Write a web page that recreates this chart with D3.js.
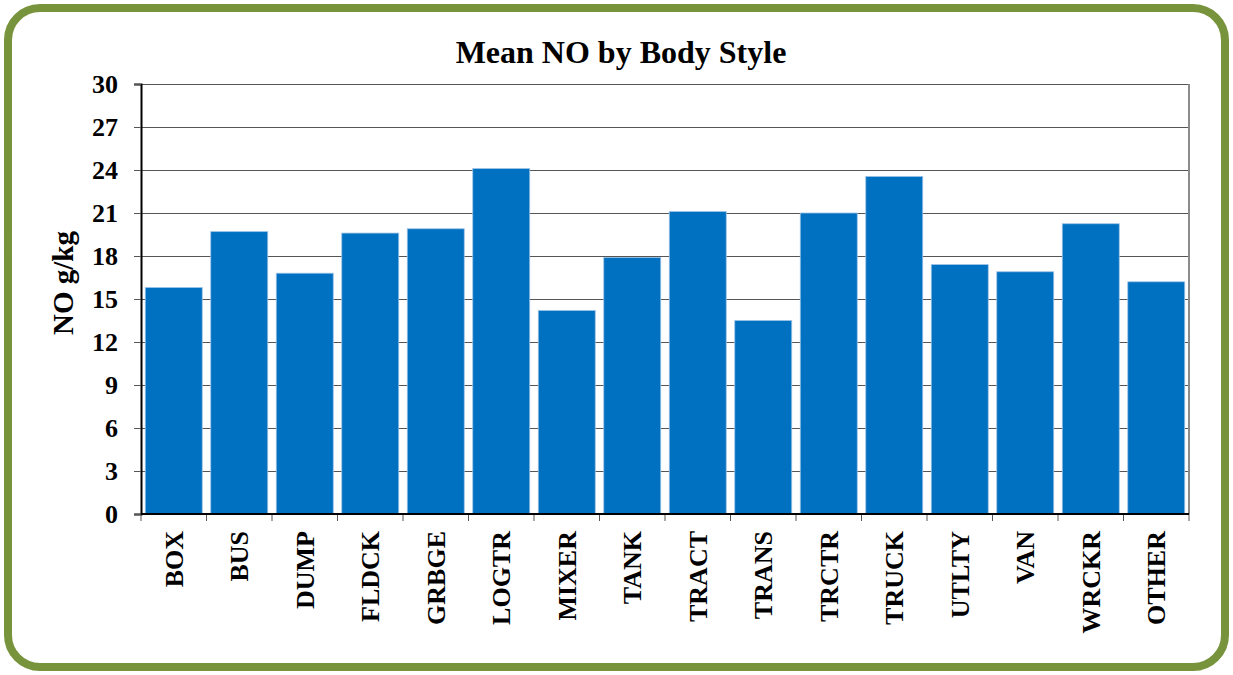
<!DOCTYPE html>
<html>
  <head>
    <script type="text/javascript" src="https://cdn.jsdelivr.net/npm/d3@7"></script>
    <style type="text/css">

html, body {
  margin: 0;
  background: #fff;
}

svg {
  display: block;
}

text {
  font-family: "Liberation Serif", "Times New Roman", serif;
  font-weight: bold;
  fill: #000;
}

    </style>
  </head>
  <body>
    <div id="chart"></div>
    <script type="text/javascript">

// Data
var categories = ["BOX", "BUS", "DUMP", "FLDCK", "GRBGE", "LOGTR", "MIXER", "TANK",
                  "TRACT", "TRANS", "TRCTR", "TRUCK", "UTLTY", "VAN", "WRCKR", "OTHER"];
var meanNO = [15.8, 19.7, 16.8, 19.6, 19.9, 24.1, 14.2, 17.9,
              21.1, 13.5, 21.0, 23.55, 17.4, 16.9, 20.25, 16.2];
var yTicks = [0, 3, 6, 9, 12, 15, 18, 21, 24, 27, 30];

var width = 1233, height = 675;
var margin = {top: 84, right: 44, bottom: 161, left: 141};

var svg = d3.select("#chart").append("svg")
    .attr("width", width)
    .attr("height", height);

// Rounded green frame
svg.append("rect")
    .attr("x", 8).attr("y", 8)
    .attr("width", width - 16).attr("height", height - 16)
    .attr("rx", 32).attr("ry", 32)
    .attr("fill", "#fff")
    .attr("stroke", "#77933C")
    .attr("stroke-width", 8);

var x = d3.scaleBand()
    .domain(categories)
    .range([margin.left, width - margin.right])
    .paddingInner(0.13)
    .paddingOuter(0.065);

var y = d3.scaleLinear()
    .domain([0, 30])
    .range([height - margin.bottom, margin.top]);

var x0 = margin.left, x1 = width - margin.right;

// Gridlines
svg.append("g")
  .selectAll("line")
    .data(yTicks.filter(function(d) { return d > 0; }))
  .enter().append("line")
    .attr("x1", x0 - 7).attr("x2", x1)
    .attr("y1", function(d) { return Math.round(y(d)) + 0.5; })
    .attr("y2", function(d) { return Math.round(y(d)) + 0.5; })
    .attr("stroke", "#555")
    .attr("stroke-width", 1);

// Right border of plot area
svg.append("line")
    .attr("x1", x1).attr("x2", x1)
    .attr("y1", y(30)).attr("y2", y(0))
    .attr("stroke", "#8c8c8c")
    .attr("stroke-width", 2);

// Bars
svg.append("g")
  .selectAll("rect")
    .data(meanNO)
  .enter().append("rect")
    .attr("x", function(d, i) { return x(categories[i]); })
    .attr("y", function(d) { return y(d); })
    .attr("width", x.bandwidth())
    .attr("height", function(d) { return y(0) - y(d); })
    .attr("fill", "#0070C0")
    .attr("stroke", "#9cc3e6")
    .attr("stroke-width", 0.8);

// Y axis
var yAxis = svg.append("g")
    .attr("transform", "translate(" + x0 + ",0)")
    .call(d3.axisLeft(y).tickValues(yTicks).tickSize(7).tickPadding(16));
yAxis.select(".domain").attr("stroke", "#000").attr("stroke-width", 2);
yAxis.selectAll(".tick line").attr("stroke", "#555");
yAxis.selectAll(".tick text")
    .style("font-size", "26px")
    .style("font-family", "Liberation Serif")
    .style("font-weight", "bold");

// X axis: ticks at category boundaries
var bounds = categories.map(function(c) { return x(c) - x.step() * x.paddingInner() / 2; });
bounds.push(x1);
svg.append("g")
  .selectAll("line")
    .data(bounds)
  .enter().append("line")
    .attr("x1", function(d) { return d; }).attr("x2", function(d) { return d; })
    .attr("y1", y(0)).attr("y2", y(0) + 7)
    .attr("stroke", "#555");
svg.append("line")
    .attr("x1", x0).attr("x2", x1)
    .attr("y1", y(0)).attr("y2", y(0))
    .attr("stroke", "#000")
    .attr("stroke-width", 2);

svg.append("g")
  .selectAll("text")
    .data(categories)
  .enter().append("text")
    .attr("transform", function(d) {
      return "translate(" + (x(d) + x.bandwidth() / 2 + 9) + "," + (y(0) + 17) + ") rotate(-90)";
    })
    .attr("text-anchor", "end")
    .style("font-size", "26px")
    .text(function(d) { return d; });

// Y axis title
svg.append("text")
    .attr("transform", "translate(73,283) rotate(-90)")
    .attr("text-anchor", "middle")
    .style("font-size", "29px")
    .text("NO g/kg");

// Chart title
svg.append("text")
    .attr("x", 621)
    .attr("y", 63)
    .attr("text-anchor", "middle")
    .style("font-size", "32px")
    .text("Mean NO by Body Style");

    </script>
  </body>
</html>
